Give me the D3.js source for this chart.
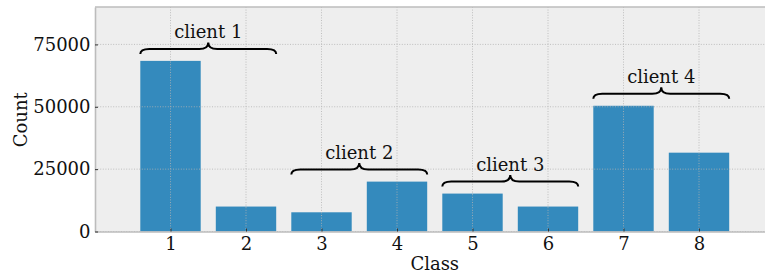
<!DOCTYPE html>
<html>
<head>
<meta charset="utf-8">
<script src="https://cdn.jsdelivr.net/npm/d3@7"></script>
<style>
    body { margin: 0; background: #ffffff; }
    text { font-family: "DejaVu Serif", serif; fill: #111111; }
</style>
</head>
<body>
<script>
// Bar chart of class counts, grouped by client with curly braces

var classes = [1, 2, 3, 4, 5, 6, 7, 8];
var counts = [68400, 10000, 7700, 20000, 15200, 10000, 50400, 31600];
var yTicks = [0, 25000, 50000, 75000];
var clientNames = ["client 1", "client 2", "client 3", "client 4"];
var clientClasses = [[1, 2], [3, 4], [5, 6], [7, 8]];

var margin = {top: 7, right: 0, bottom: 45.5, left: 95},
    width = 679.5,
    height = 277 - margin.top - margin.bottom;

var fontSize = "18px";

var svg = d3.select("body").append("svg")
    .attr("width", 765)
    .attr("height", 277)
    .append("g")
    .attr("transform", "translate(" + margin.left + "," + margin.top + ")");

var xScale = d3.scaleLinear().domain([0, 9]).range([0, width]);
var yScale = d3.scaleLinear().domain([0, 90000]).range([height, 0]);
var barW = 0.8;

// plot background
svg.append("rect")
    .attr("width", width)
    .attr("height", height)
    .attr("fill", "#eeeeee");

// bars
svg.selectAll("rect.bar")
    .data(classes)
    .enter()
    .append("rect")
    .attr("class", "bar")
    .attr("x", function(d) { return xScale(d - barW / 2); })
    .attr("y", function(d, i) { return yScale(counts[i]); })
    .attr("width", xScale(barW) - xScale(0))
    .attr("height", function(d, i) { return height - yScale(counts[i]); })
    .attr("fill", "#348abd");

// grid on top of bars (bmh style)
svg.selectAll("line.vgrid")
    .data(classes)
    .enter()
    .append("line")
    .attr("x1", function(d) { return xScale(d); })
    .attr("x2", function(d) { return xScale(d); })
    .attr("y1", 0)
    .attr("y2", height)
    .attr("stroke", "#b2b2b2")
    .attr("stroke-width", 0.8)
    .attr("stroke-dasharray", "1,1.6");

svg.selectAll("line.hgrid")
    .data(yTicks)
    .enter()
    .append("line")
    .attr("x1", 0)
    .attr("x2", width)
    .attr("y1", function(d) { return yScale(d); })
    .attr("y2", function(d) { return yScale(d); })
    .attr("stroke", "#b2b2b2")
    .attr("stroke-width", 0.8)
    .attr("stroke-dasharray", "1,1.6");

// axes
var xAxis = d3.axisBottom(xScale).tickValues(classes)
    .tickSizeInner(-3).tickSizeOuter(0).tickPadding(6);
var yAxis = d3.axisLeft(yScale).tickValues(yTicks)
    .tickFormat(d3.format("d"))
    .tickSizeInner(-3).tickSizeOuter(0).tickPadding(4.5);

var gx = svg.append("g")
    .attr("transform", "translate(0," + height + ")")
    .call(xAxis);
var gy = svg.append("g").call(yAxis);

[gx, gy].forEach(function(g) {
    g.attr("font-size", fontSize).attr("font-family", "DejaVu Serif");
    g.select(".domain").attr("stroke", "#bcbcbc").attr("stroke-width", 1.6);
    g.selectAll(".tick line").attr("stroke", "#333333").attr("stroke-width", 1);
    g.selectAll(".tick text").attr("fill", "#111111");
});

// top spine
svg.append("line")
    .attr("x1", 0).attr("x2", width)
    .attr("y1", 0).attr("y2", 0)
    .attr("stroke", "#bcbcbc")
    .attr("stroke-width", 1.6);

// braces and client labels
function bracePath(x0, x1, yb) {
    var xm = (x0 + x1) / 2,
        yf = yb - 5,
        yp = yb - 11.5,
        r = 9;
    return "M" + x0 + "," + yb +
        " Q" + x0 + "," + yf + " " + (x0 + r) + "," + yf +
        " L" + (xm - r) + "," + yf +
        " Q" + xm + "," + yf + " " + xm + "," + yp +
        " Q" + xm + "," + yf + " " + (xm + r) + "," + yf +
        " L" + (x1 - r) + "," + yf +
        " Q" + x1 + "," + yf + " " + x1 + "," + yb;
}

clientClasses.forEach(function(pair, k) {
    var x0 = xScale(pair[0] - barW / 2),
        x1 = xScale(pair[1] + barW / 2),
        top = d3.max(pair, function(c) { return counts[c - 1]; }),
        yb = yScale(top) - 7;
    svg.append("path")
        .attr("d", bracePath(x0, x1, yb))
        .attr("fill", "none")
        .attr("stroke", "#000000")
        .attr("stroke-width", 2);
    svg.append("text")
        .attr("x", (x0 + x1) / 2)
        .attr("y", yb - 16)
        .attr("text-anchor", "middle")
        .attr("font-size", fontSize)
        .text(clientNames[k]);
});

// axis labels
svg.append("text")
    .attr("x", width / 2)
    .attr("y", height + 38.5)
    .attr("text-anchor", "middle")
    .attr("font-size", fontSize)
    .text("Class");

svg.append("text")
    .attr("transform", "rotate(-90)")
    .attr("x", -height / 2 - 0.5)
    .attr("y", -68)
    .attr("text-anchor", "middle")
    .attr("font-size", fontSize)
    .text("Count");
</script>
</body>
</html>
